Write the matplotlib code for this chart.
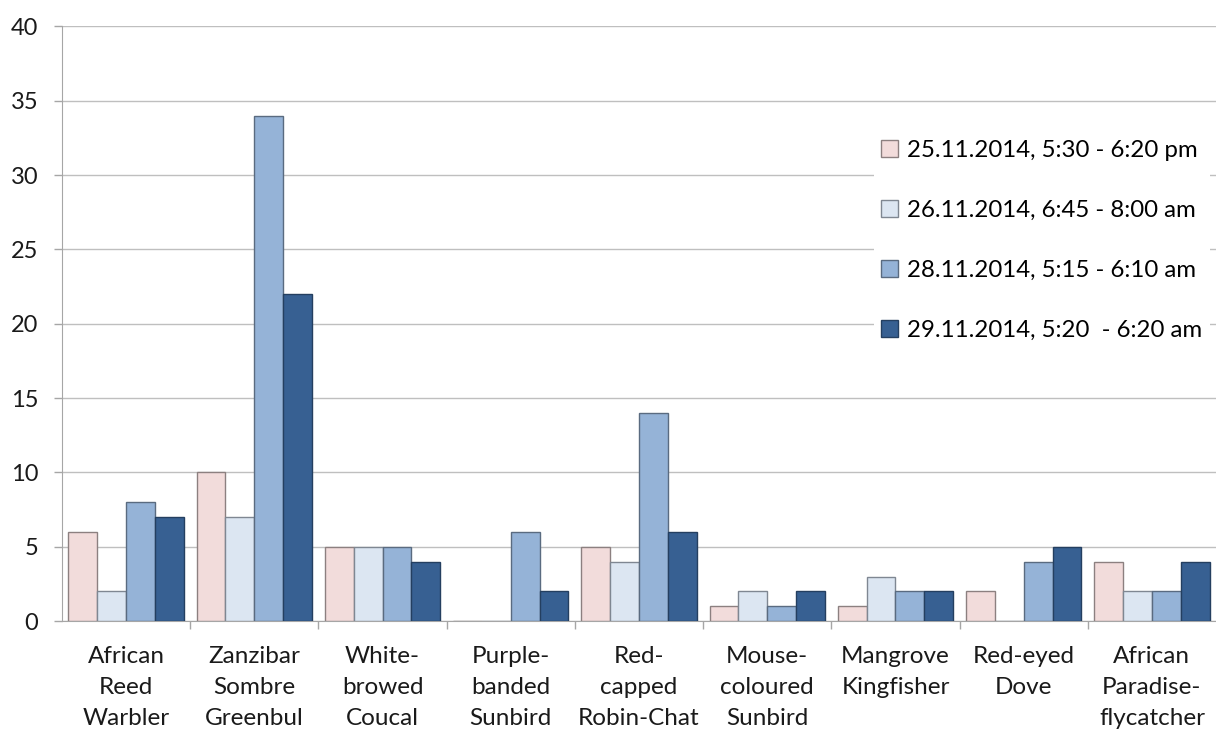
import numpy as np
import matplotlib.pyplot as plt

plt.rcParams['font.family'] = ['Lato', 'DejaVu Sans']

# species on the x axis
species = ["African\nReed\nWarbler", "Zanzibar\nSombre\nGreenbul", "White-\nbrowed\nCoucal",
           "Purple-\nbanded\nSunbird", "Red-\ncapped\nRobin-Chat", "Mouse-\ncoloured\nSunbird",
           "Mangrove\nKingfisher", "Red-eyed\nDove", "African\nParadise-\nflycatcher"]

# counts per survey session
s_25_11 = [6, 10, 5, 0, 5, 1, 1, 2, 4]
s_26_11 = [2, 7, 5, 0, 4, 2, 3, 0, 2]
s_28_11 = [8, 34, 5, 6, 14, 1, 2, 4, 2]
s_29_11 = [7, 22, 4, 2, 6, 2, 2, 5, 4]

labels = ["25.11.2014, 5:30 - 6:20 pm", "26.11.2014, 6:45 - 8:00 am",
          "28.11.2014, 5:15 - 6:10 am", "29.11.2014, 5:20  - 6:20 am"]
colors = ["#F2DCDB", "#DCE6F2", "#95B3D7", "#376092"]
edges = ["#8C8080", "#7F8792", "#5A6B80", "#243F60"]

fig = plt.figure(figsize=(12.16, 7.3), dpi=100)
ax = fig.add_axes([0.051, 0.149, 0.949, 0.815])

x = np.arange(len(species))
w = 0.225
for i, vals in enumerate([s_25_11, s_26_11, s_28_11, s_29_11]):
    ax.bar(x + (i - 1.5) * w, vals, width=w, color=colors[i], edgecolor=edges[i],
           linewidth=1, label=labels[i], zorder=3)

ax.set_xlim(-0.5, len(species) - 0.5)
ax.set_ylim(0, 40)
ax.set_yticks(range(0, 41, 5))
ax.grid(axis='y', color='#BFBFBF', linewidth=1, zorder=0)

ax.set_xticks(x)
ax.set_xticklabels(species, fontsize=17.5, linespacing=1.57, color='#1a1a1a')
ax.set_xticks(np.arange(0.5, len(species) - 0.5), minor=True)
ax.tick_params(axis='x', which='major', length=0, pad=18)
ax.tick_params(axis='x', which='minor', length=6, color='#A6A6A6', width=1)
ax.tick_params(axis='y', labelsize=17, length=6, color='#A6A6A6', width=1, pad=11,
               labelcolor='#1a1a1a')

for s in ['top', 'right']:
    ax.spines[s].set_visible(False)
for s in ['left', 'bottom']:
    ax.spines[s].set_color('#A6A6A6')

leg = ax.legend(loc='upper left', bbox_to_anchor=(0.693, 0.842), frameon=True, fontsize=17.3,
                labelspacing=1.63, handlelength=0.7, handleheight=0.7, handletextpad=0.4,
                borderpad=0.3, edgecolor='none', facecolor='white', framealpha=1)
leg.set_zorder(5)

fig.savefig("out.png", dpi=100)
